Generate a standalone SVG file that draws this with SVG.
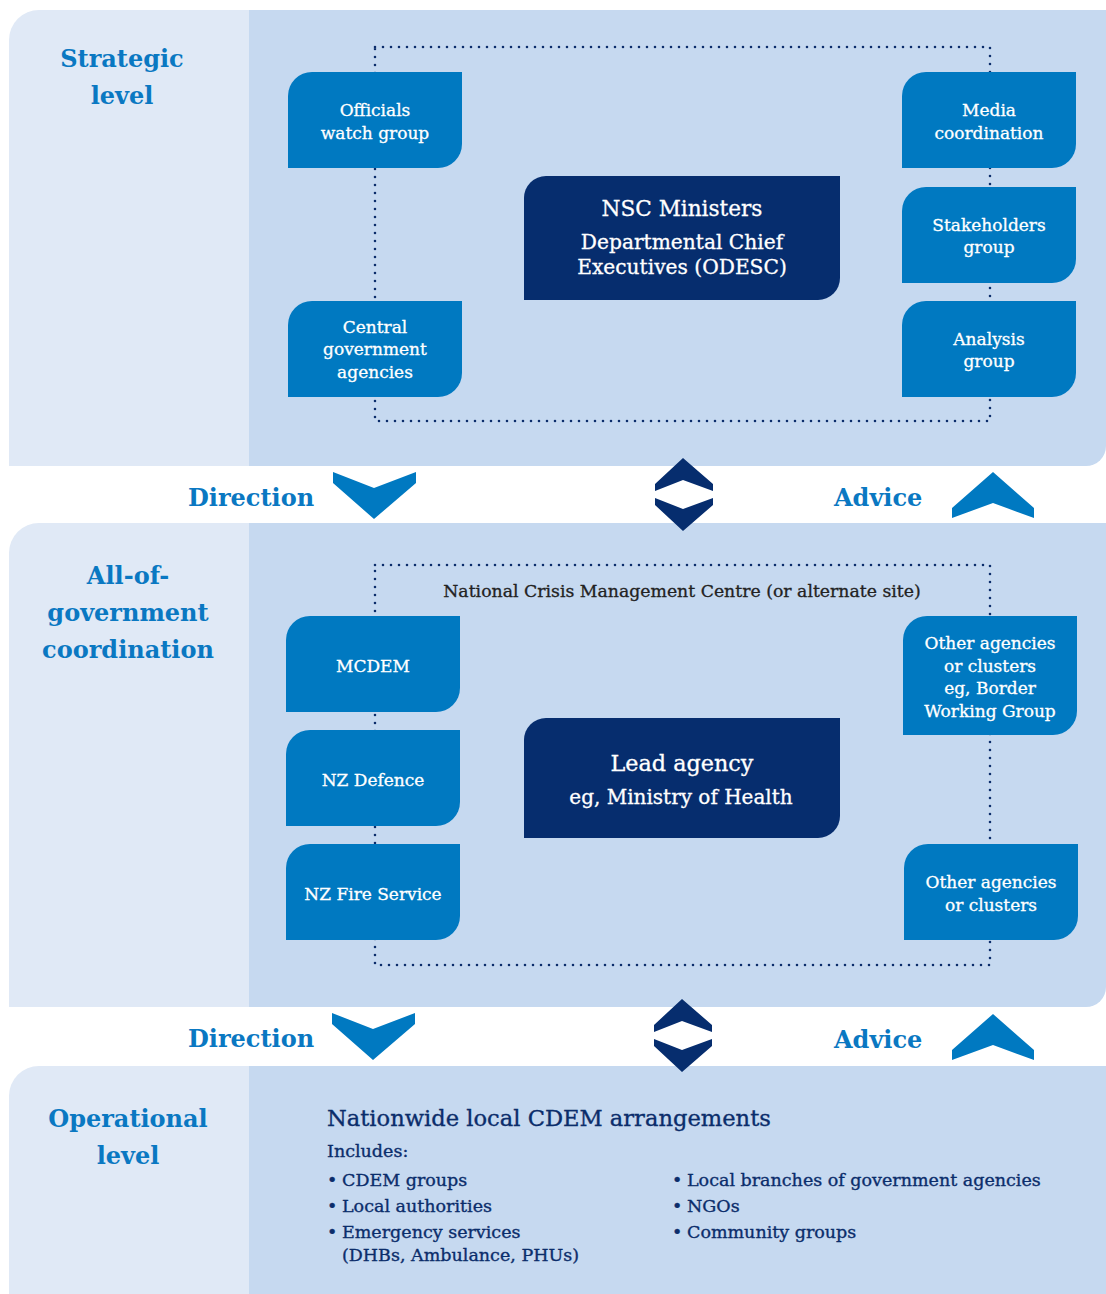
<svg xmlns="http://www.w3.org/2000/svg" xmlns:xlink="http://www.w3.org/1999/xlink" width="1106" height="1294" viewBox="0 0 1106 1294">
<style>
.pl{fill:#e0e9f6}
.pr{fill:#c6d9f0}
.b{fill:#0079c1}
.n{fill:#062d6e}
.bt{font-family:"DejaVu Serif",serif;font-size:17px;fill:#fff;stroke:#fff;stroke-width:0.3;text-anchor:middle}
.nt{font-family:"DejaVu Serif",serif;fill:#fff;stroke:#fff;stroke-width:0.3;text-anchor:middle}
.lab{font-family:"DejaVu Serif",serif;font-size:24px;font-weight:bold;fill:#0a78c2;text-anchor:middle}
.arr{font-family:"DejaVu Serif",serif;font-size:24px;font-weight:bold;fill:#0a78c2}
.dot{fill:none;stroke:#0b2d6b;stroke-width:2.6;stroke-linecap:round;stroke-dasharray:0 8}
.ot{font-family:"DejaVu Serif",serif;fill:#0b2d6b;stroke:#0b2d6b;stroke-width:0.35}
.cb{fill:#0079c1}
.cn{fill:#062d6e}
</style>
<defs>
<path id="bx" d="M0,24 A24,24 0 0 1 24,0 H174 V72 A24,24 0 0 1 150,96 H0 Z"/>
</defs>

<g id="panels">
<path class="pl" d="M9,40 A30,30 0 0 1 39,10 H249 V466 H9 Z"/>
<path class="pr" d="M249,10 H1106 V446 A20,20 0 0 1 1086,466 H249 Z"/>
<path class="pl" d="M9,553 A30,30 0 0 1 39,523 H249 V1007 H9 Z"/>
<path class="pr" d="M249,523 H1106 V987 A20,20 0 0 1 1086,1007 H249 Z"/>
<path class="pl" d="M9,1096 A30,30 0 0 1 39,1066 H249 V1294 H9 Z"/>
<path class="pr" d="M249,1066 H1106 V1294 H249 Z"/>
</g>

<g id="level-labels">
<text class="lab" x="122" y="67">Strategic</text>
<text class="lab" x="122" y="104">level</text>
<text class="lab" x="128" y="584">All-of-</text>
<text class="lab" x="128" y="621">government</text>
<text class="lab" x="128" y="658">coordination</text>
<text class="lab" x="128" y="1127">Operational</text>
<text class="lab" x="128" y="1164">level</text>
</g>

<g id="connectors">
<path class="dot" d="M375,47 H990 V421 H375 Z"/>
<path class="dot" d="M375,565 H990 V965 H375 Z"/>
</g>

<g id="flow-arrows">
<text class="arr" x="188" y="506" font-size="24.3">Direction</text>
<path class="cb" d="M333,472 L374,488 L416,472 L416,483 L374,519 L333,483 Z"/>
<path class="cn" d="M683,458 L713,484 L713,491 L683,480 L655,491 L655,484 Z"/>
<path class="cn" d="M655,498 L683,509 L713,498 L713,505 L683,531 L655,505 Z"/>
<text class="arr" x="834" y="506" font-size="24.8">Advice</text>
<path class="cb" d="M993,472 L1034,508 L1034,518 L993,503 L952,518 L952,508 Z"/>

<text class="arr" x="188" y="1047" font-size="24.3">Direction</text>
<path class="cb" d="M332,1013 L373,1029 L415,1013 L415,1024 L373,1060 L332,1024 Z"/>
<path class="cn" d="M682,999 L712,1025 L712,1032 L682,1021 L654,1032 L654,1025 Z"/>
<path class="cn" d="M654,1039 L682,1050 L712,1039 L712,1046 L682,1072 L654,1046 Z"/>
<text class="arr" x="834" y="1048" font-size="24.8">Advice</text>
<path class="cb" d="M993,1014 L1034,1050 L1034,1060 L993,1045 L952,1060 L952,1050 Z"/>
</g>

<g id="officials-watch-group">
<use xlink:href="#bx" href="#bx" x="288" y="72" class="b"/>
<text class="bt" x="375" y="116">Officials</text>
<text class="bt" x="375" y="139">watch group</text>
</g>
<g id="central-government-agencies">
<use xlink:href="#bx" href="#bx" x="288" y="301" class="b"/>
<text class="bt" x="375" y="333">Central</text>
<text class="bt" x="375" y="355">government</text>
<text class="bt" x="375" y="378">agencies</text>
</g>
<g id="media-coordination">
<use xlink:href="#bx" href="#bx" x="902" y="72" class="b"/>
<text class="bt" x="989" y="116">Media</text>
<text class="bt" x="989" y="139">coordination</text>
</g>
<g id="stakeholders-group">
<use xlink:href="#bx" href="#bx" x="902" y="187" class="b"/>
<text class="bt" x="989" y="231">Stakeholders</text>
<text class="bt" x="989" y="253">group</text>
</g>
<g id="analysis-group">
<use xlink:href="#bx" href="#bx" x="902" y="301" class="b"/>
<text class="bt" x="989" y="345">Analysis</text>
<text class="bt" x="989" y="367">group</text>
</g>
<g id="nsc-ministers">
<path class="n" d="M524,198 A22,22 0 0 1 546,176 H840 V278 A22,22 0 0 1 818,300 H524 Z"/>
<text class="nt" x="682" y="216" font-size="21.6">NSC Ministers</text>
<text class="nt" x="682" y="249" font-size="20.2">Departmental Chief</text>
<text class="nt" x="682" y="274" font-size="20.2">Executives (ODESC)</text>
</g>

<g id="ncmc-label">
<text x="682" y="597" font-family="DejaVu Serif, serif" font-size="17.3" text-anchor="middle" fill="#222" stroke="#222" stroke-width="0.3">National Crisis Management Centre (or alternate site)</text>
</g>
<g id="mcdem">
<use xlink:href="#bx" href="#bx" x="286" y="616" class="b"/>
<text class="bt" x="373" y="672">MCDEM</text>
</g>
<g id="nz-defence">
<use xlink:href="#bx" href="#bx" x="286" y="730" class="b"/>
<text class="bt" x="373" y="786">NZ Defence</text>
</g>
<g id="nz-fire-service">
<use xlink:href="#bx" href="#bx" x="286" y="844" class="b"/>
<text class="bt" x="373" y="900">NZ Fire Service</text>
</g>
<g id="other-agencies-border">
<path class="b" d="M903,640 A24,24 0 0 1 927,616 H1077 V711 A24,24 0 0 1 1053,735 H903 Z"/>
<text class="bt" x="990" y="649">Other agencies</text>
<text class="bt" x="990" y="672">or clusters</text>
<text class="bt" x="990" y="694">eg, Border</text>
<text class="bt" x="990" y="717">Working Group</text>
</g>
<g id="other-agencies">
<use xlink:href="#bx" href="#bx" x="904" y="844" class="b"/>
<text class="bt" x="991" y="888">Other agencies</text>
<text class="bt" x="991" y="911">or clusters</text>
</g>
<g id="lead-agency">
<path class="n" d="M524,740 A22,22 0 0 1 546,718 H840 V816 A22,22 0 0 1 818,838 H524 Z"/>
<text class="nt" x="682" y="771" font-size="22.3">Lead agency</text>
<text class="nt" x="681" y="804" font-size="20">eg, Ministry of Health</text>
</g>

<g id="operational">
<text class="ot" x="327" y="1126" font-size="22.6">Nationwide local CDEM arrangements</text>
<text class="ot" x="327" y="1157" font-size="17.5">Includes:</text>
<g font-size="17.5">
<text class="ot" x="327" y="1186">•</text><text class="ot" x="342" y="1186">CDEM groups</text>
<text class="ot" x="327" y="1212">•</text><text class="ot" x="342" y="1212">Local authorities</text>
<text class="ot" x="327" y="1238">•</text><text class="ot" x="342" y="1238">Emergency services</text>
<text class="ot" x="342" y="1261">(DHBs, Ambulance, PHUs)</text>
<text class="ot" x="672" y="1186">•</text><text class="ot" x="687" y="1186">Local branches of government agencies</text>
<text class="ot" x="672" y="1212">•</text><text class="ot" x="687" y="1212">NGOs</text>
<text class="ot" x="672" y="1238">•</text><text class="ot" x="687" y="1238">Community groups</text>
</g>
</g>
</svg>
